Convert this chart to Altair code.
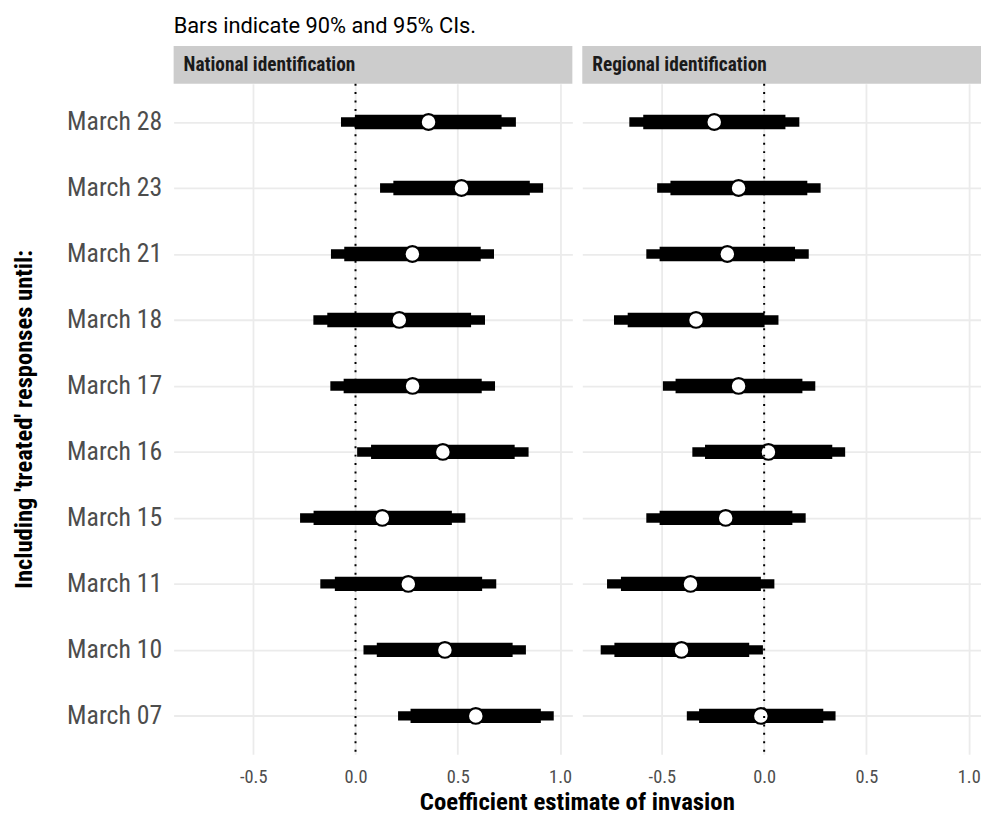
import altair as alt
import pandas as pd

dates = ["March 28", "March 23", "March 21", "March 18", "March 17",
         "March 16", "March 15", "March 11", "March 10", "March 07"]
panels = ["National identification", "Regional identification"]

nat_est  = [0.357, 0.518, 0.278, 0.214, 0.279, 0.427, 0.131, 0.258, 0.437, 0.588]
nat_lo90 = [-0.003, 0.185, -0.055, -0.138, -0.058, 0.076, -0.205, -0.101, 0.104, 0.269]
nat_hi90 = [0.714, 0.852, 0.612, 0.565, 0.617, 0.778, 0.471, 0.619, 0.768, 0.906]
nat_lo95 = [-0.071, 0.120, -0.120, -0.206, -0.123, 0.008, -0.271, -0.172, 0.039, 0.208]
nat_hi95 = [0.784, 0.917, 0.677, 0.633, 0.682, 0.846, 0.537, 0.688, 0.833, 0.969]

reg_est  = [-0.244, -0.125, -0.180, -0.333, -0.125, 0.021, -0.188, -0.360, -0.404, -0.016]
reg_lo90 = [-0.591, -0.458, -0.511, -0.667, -0.433, -0.289, -0.511, -0.700, -0.732, -0.318]
reg_hi90 = [0.104, 0.211, 0.151, 0.002, 0.187, 0.333, 0.138, -0.016, -0.073, 0.289]
reg_lo95 = [-0.659, -0.523, -0.576, -0.734, -0.495, -0.351, -0.576, -0.768, -0.799, -0.378]
reg_hi95 = [0.172, 0.276, 0.218, 0.070, 0.250, 0.396, 0.203, 0.050, -0.006, 0.349]

rows = []
for p, est, l90, h90, l95, h95 in [
    (panels[0], nat_est, nat_lo90, nat_hi90, nat_lo95, nat_hi95),
    (panels[1], reg_est, reg_lo90, reg_hi90, reg_lo95, reg_hi95),
]:
    for i, d in enumerate(dates):
        rows.append({"panel": p, "date": d, "est": est[i], "lo90": l90[i],
                     "hi90": h90[i], "lo95": l95[i], "hi95": h95[i]})
df = pd.DataFrame(rows)

FONT = "Roboto Condensed, Liberation Sans Narrow, Arial Narrow, DejaVu Sans Condensed, Roboto, sans-serif"
TITLE_FONT = "Roboto, Noto Sans, sans-serif"
W, H = 402, 676

x_scale = alt.Scale(domain=[-0.889, 1.060], nice=False, zero=False)
x_axis = alt.Axis(
    values=[-0.5, 0, 0.5, 1.0],
    labelExpr="(datum.value < 0 ? '-' : '') + format(abs(datum.value), '.1f')",
    title=None, grid=True, gridColor="#ebebeb", gridWidth=1.8,
    domain=False, ticks=False, labelFontSize=18.5, labelColor="#4d4d4d",
    labelFont=FONT, labelPadding=13,
)
y_enc = alt.Y(
    "date:N", sort=dates,
    scale=alt.Scale(type="point", padding=0.58),
    axis=alt.Axis(
        title="Including 'treated' responses until:", titleFont=FONT,
        titleFontSize=24.8, titleFontWeight="bold", titleColor="black",
        titlePadding=30, labelFont=FONT, labelFontSize=26,
        labelColor="#4d4d4d", labelPadding=12, ticks=False, domain=False,
        grid=True, gridColor="#ebebeb", gridWidth=1.8,
    ),
)

base = alt.Chart()
one = alt.datum.date == dates[0]

strip = base.mark_rect(color="#cccccc").encode(
    x=alt.value(0), x2=alt.value(W), y=alt.value(-38), y2=alt.value(0)
).transform_filter(one)

strip_text = base.mark_text(
    align="left", baseline="alphabetic", font=FONT, fontSize=19.5,
    fontWeight="bold", color="#1a1a1a"
).encode(x=alt.value(10), y=alt.value(-13), text="panel:N").transform_filter(one)

r95 = base.mark_rule(strokeWidth=9.5, color="black").encode(
    x=alt.X("lo95:Q", scale=x_scale, axis=x_axis), x2="hi95:Q", y=y_enc
)
r90 = base.mark_rule(strokeWidth=14.5, color="black").encode(
    x=alt.X("lo90:Q", scale=x_scale, axis=x_axis), x2="hi90:Q", y=y_enc
)
pts = base.mark_point(
    filled=False, fill="white", fillOpacity=1, stroke="black",
    strokeWidth=2.2, size=250, shape="circle", opacity=1
).encode(x=alt.X("est:Q", scale=x_scale, axis=x_axis), y=y_enc)

vline = base.mark_rule(color="black", strokeWidth=2, strokeDash=[2, 6.5]).encode(
    x=alt.X("zero:Q", scale=x_scale, axis=x_axis)
).transform_filter(one).transform_calculate(zero="0")

layered = alt.layer(strip, strip_text, r95, r90, pts, vline, data=df).properties(
    width=W, height=H
)

chart = layered.facet(
    column=alt.Column(
        "panel:N", sort=panels,
        header=alt.Header(
            labels=False, title="Coefficient estimate of invasion",
            titleOrient="bottom", titleFont=FONT, titleFontSize=25,
            titleFontWeight="bold", titleColor="black", titlePadding=-7,
        ),
    ),
    spacing=10,
).properties(
    title=alt.TitleParams(
        "Bars indicate 90% and 95% CIs.", anchor="start", frame="group",
        font=TITLE_FONT, fontSize=22, fontWeight="normal", color="black", offset=8,
    ),
    padding={"left": 4, "top": 4, "right": 0, "bottom": -5},
).configure(background="white").configure_view(strokeWidth=0, stroke="transparent")

chart.save("out.html", embed_options={"renderer": "svg", "actions": False})
